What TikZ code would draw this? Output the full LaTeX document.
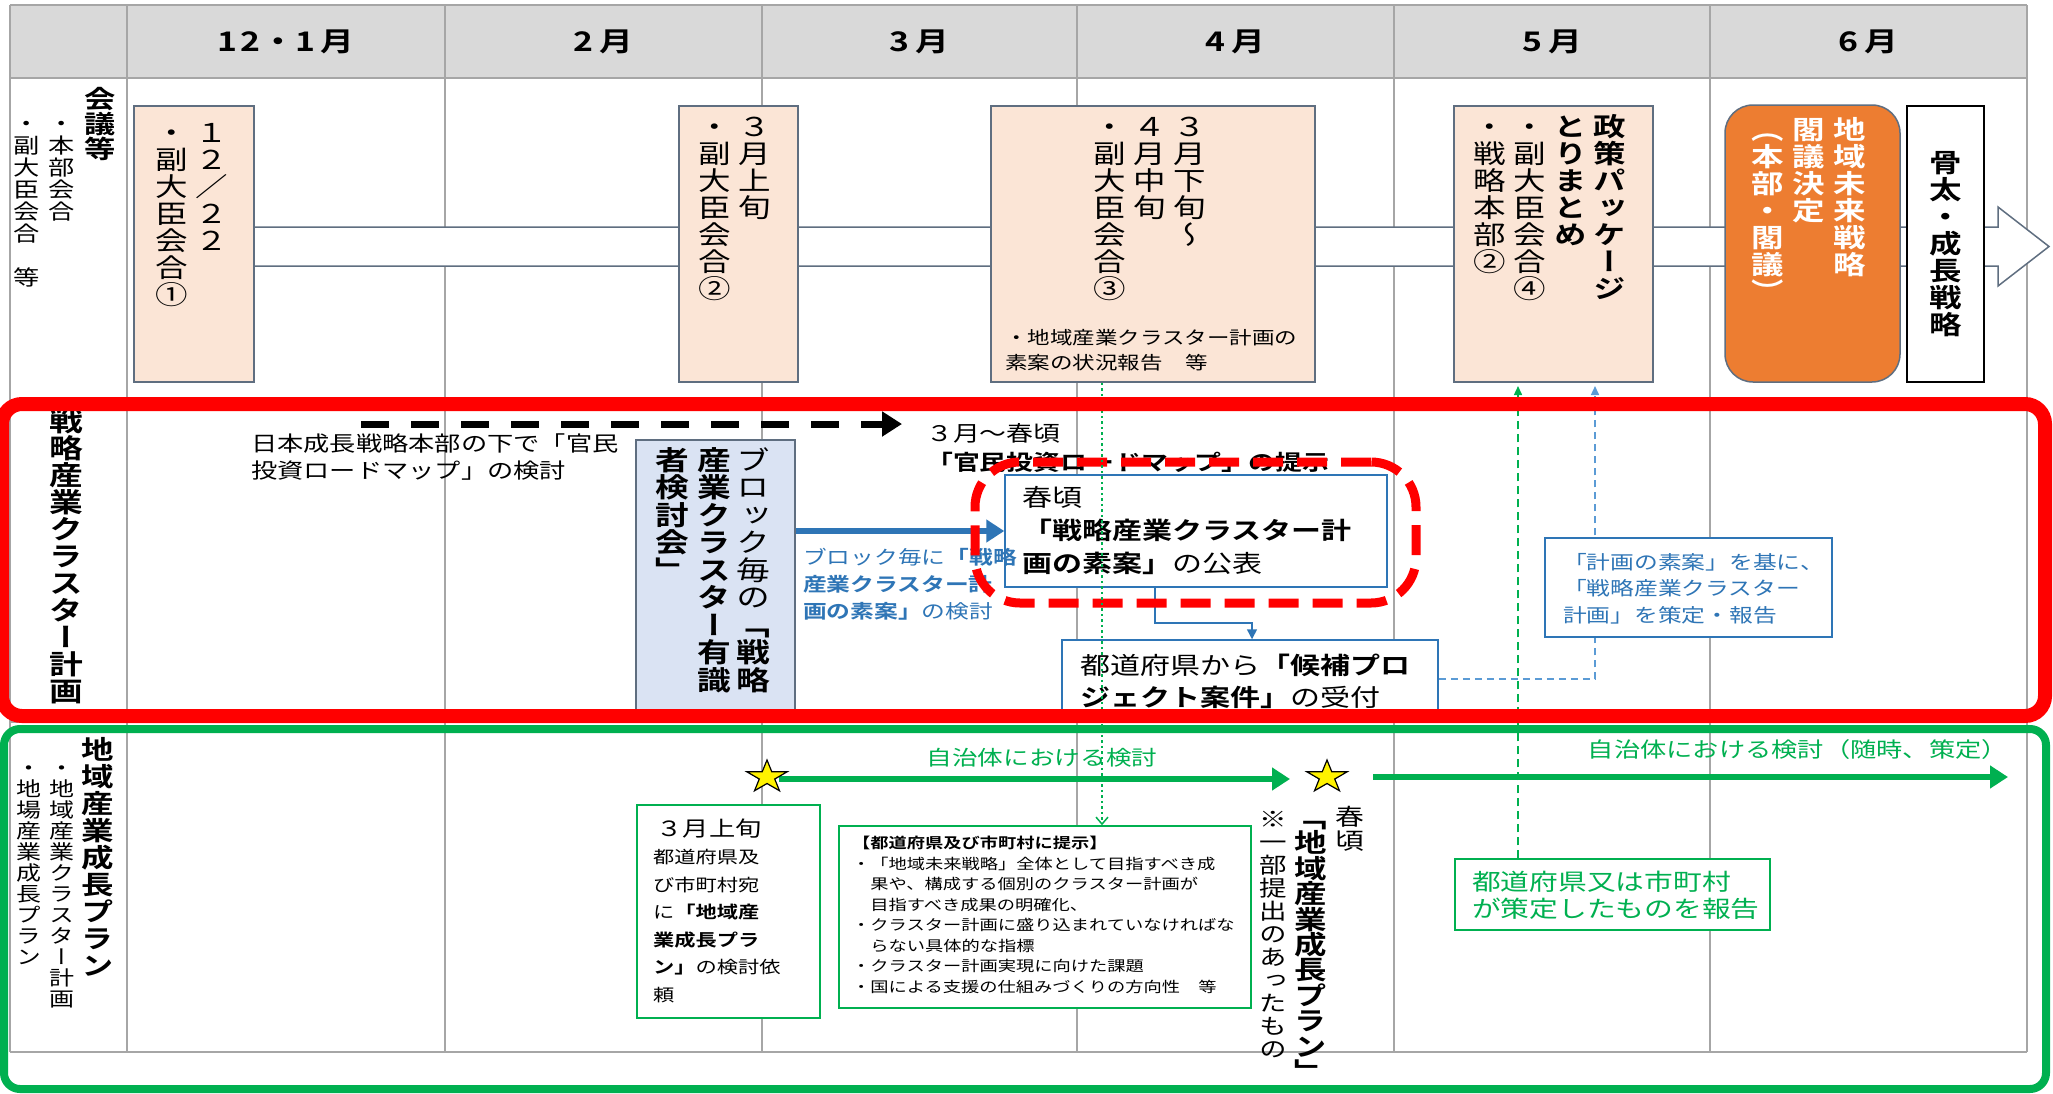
\documentclass[tikz,border=0pt]{standalone}
\usepackage{fontspec}
\setmainfont{Noto Sans CJK JP}[FakeStretch=1.25,BoldFont={Noto Sans CJK JP Bold}]
\newfontfamily\vjp{Noto Sans CJK JP}[FakeStretch=1.25,RawFeature=+vert,BoldFont={Noto Sans CJK JP Bold}]
\usetikzlibrary{arrows.meta}
\definecolor{peach}{HTML}{FBE5D6}
\definecolor{slate}{HTML}{5F6E80}
\definecolor{orng}{HTML}{ED7D31}
\definecolor{lblue}{HTML}{DAE3F3}
\definecolor{bblue}{HTML}{2E75B6}
\definecolor{dblue}{HTML}{5B9BD5}
\definecolor{grn}{HTML}{00B050}
\definecolor{gridc}{HTML}{A6A6A6}
\definecolor{hdr}{HTML}{D9D9D9}
\makeatletter
\newdimen\vsp \newdimen\vsw \newdimen\vfs \newdimen\vsk
\def\vsB{\vsB@marker}
\def\vs@end{\vs@end@marker}
\def\vs@loop#1{\ifx#1\vs@end\expandafter\@gobble\else\expandafter\@firstofone\fi{\vs@do{#1}\vs@loop}}
\def\vs@do#1{\ifx#1\vsB\bfseries\else\hbox to\vsw{\hss\smash{#1}\hss}\kern\vsp\fi}
\newcommand\VT[3]{\vjp\fontsize{#1}{#1}\selectfont\vfs=#1pt\relax\vsp=#2pt\relax\vsw=1.25\vfs
  \vsk=\dimexpr(\vsp-\vfs)/2+0.88\vfs\relax
  \vtop{\offinterlineskip\kern\vsk\vs@loop#3\vs@end\kern-\vsk}}
\makeatother
\newcommand\drawstar[1]{\begin{scope}[shift={(#1)},xscale=1.25]
  \draw[black,line width=1.2pt,fill=yellow,line join=miter] (270:17)--(306:6.5)--(342:17)--(18:6.5)--(54:17)--(90:6.5)--(126:17)--(162:6.5)--(198:17)--(234:6.5)--cycle;\end{scope}}
\tikzset{
  grid/.style={draw=gridc, line width=1.5pt},
  hd/.style={font={\fontsize{27}{27}\selectfont\bfseries}, inner sep=0pt},
  pbox/.style={draw=slate, line width=1.5pt, fill=peach, inner sep=0pt},
  vt/.style={inner sep=0pt, outer sep=0pt, anchor=north},
  ht/.style={inner sep=0pt, anchor=north west, align=left},
  bluebox/.style={draw=bblue, line width=1.5pt, fill=white, inner sep=0pt},
  greenbox/.style={draw=grn, line width=1.5pt, fill=white, inner sep=0pt},
  thickarrow/.style={line width=6pt, -{Triangle[length=18pt,width=22pt]}},
}
\begin{document}
\begin{tikzpicture}[x=1pt,y=-1pt]
\useasboundingbox (0,0) rectangle (2053,1093);
\fill[white] (0,0) rectangle (2053,1093);
% header and grid
\fill[hdr] (10,5) rectangle (2027,78);
\foreach \x in {10,127,445,762,1077,1394,1710,2027} \draw[grid] (\x,5) -- (\x,1052);
\foreach \y in {5,78,400,722,1052} \draw[grid] (10,\y) -- (2027,\y);
\node[hd] (h1) at (286,42) {1\kern3pt2\kern1pt・\kern1pt1\kern5pt月};
\node[hd] (h2) at (603,42) {2\kern6pt月};
\node[hd] (h3) at (919,42) {3\kern6pt月};
\node[hd] (h4) at (1235,42) {4\kern6pt月};
\node[hd] (h5) at (1552,42) {5\kern6pt月};
\node[hd] (h6) at (1868,42) {6\kern6pt月};
% row labels
\node[vt] (l1a) at (100,86) {\VT{25}{25}{\vsB 会議等}};
\node[vt] (l1b) at (62,113) {\VT{21}{22}{・本部会合}};
\node[vt] (l1c) at (27,113) {\VT{21}{22}{・副大臣会合　等}};
\node[vt] (l2) at (66,408) {\VT{27}{27}{\vsB 戦略産業クラスター計画}};
\node[vt] (l3a) at (98,736) {\VT{26}{27}{\vsB 地域産業成長プラン}};
\node[vt] (l3b) at (62,757) {\VT{20}{21}{・地域産業クラスター計画}};
\node[vt] (l3c) at (29,757) {\VT{20}{21}{・地場産業成長プラン}};
% band arrow
\draw[slate, line width=1.5pt, fill=white] (200,227) -- (1998,227) -- (1998,207) -- (2049,246.5) -- (1998,286) -- (1998,266) -- (200,266) -- cycle;
% row 1 boxes
\node[pbox, minimum width=120pt, minimum height=276pt] (b1) at (194,244) {};
\node[vt] (b1a) at (212,119) {\VT{26}{27}{１２／２２}};
\node[vt] (b1b) at (172,119) {\VT{26}{27}{・副大臣会合①}};
\node[pbox, minimum width=119pt, minimum height=276pt] (b2) at (738.5,244) {};
\node[vt] (b2a) at (755,113) {\VT{26}{27}{３月上旬}};
\node[vt] (b2b) at (715,113) {\VT{26}{27}{・副大臣会合②}};
\node[pbox, minimum width=324pt, minimum height=276pt] (b3) at (1153,244) {};
\node[vt] (b3a) at (1190,113) {\VT{26}{27}{３月下旬～}};
\node[vt] (b3b) at (1150,113) {\VT{26}{27}{４月中旬}};
\node[vt] (b3c) at (1110,113) {\VT{26}{27}{・副大臣会合③}};
\node[ht, font={\fontsize{18}{25}\selectfont}] (b3d) at (1005,328) {\rule{0pt}{15.8pt}・地域産業クラスター計画の\\素案の状況報告　等};
\node[pbox, minimum width=199pt, minimum height=276pt] (b4) at (1553.5,244) {};
\node[vt] (b4a) at (1610,113) {\VT{26}{27}{\vsB 政策パッケージ}};
\node[vt] (b4b) at (1571,113) {\VT{26}{27}{\vsB とりまとめ}};
\node[vt] (b4c) at (1530,113) {\VT{26}{27}{・副大臣会合④}};
\node[vt] (b4d) at (1490,113) {\VT{26}{27}{・戦略本部②}};
\node[draw=slate, line width=1.5pt, fill=orng, rounded corners=28pt, minimum width=175pt, minimum height=277pt, inner sep=0pt] (orb) at (1812.5,243.5) {};
\node[vt, text=white] (ora) at (1850,116) {\VT{26}{27}{\vsB 地域未来戦略}};
\node[vt, text=white] (orc) at (1809,116) {\VT{26}{27}{\vsB 閣議決定}};
\node[vt, text=white] (ord) at (1768,116) {\VT{26}{27}{\vsB （本部・閣議）}};
\node[draw=black, line width=1.5pt, fill=white, minimum width=77pt, minimum height=276pt, inner sep=0pt] (kb) at (1945.5,244) {};
\node[inner sep=0pt] (kbt) at (kb.center) {\VT{26}{27}{\vsB 骨太・成長戦略}};
% row 2
\coordinate (rm1) at (361,424);
\coordinate (rm2) at (902,424);
\draw[line width=7pt, dash pattern=on 28pt off 22pt, -{Triangle[length=20pt,width=24pt]}] (rm1) -- (rm2);
\node[ht, font={\fontsize{21}{27}\selectfont}] (t1) at (251,432.5) {\rule{0pt}{18.5pt}日本成長戦略本部の下で「官民\\投資ロードマップ」の検討};
\node[ht, font={\fontsize{21.5}{29}\selectfont}] (t2) at (926,422) {\rule{0pt}{18.9pt}３月～春頃\\\textbf{「官民投資ロードマップ」の提示}};
\node[draw=slate, line width=1.5pt, fill=lblue, minimum width=159pt, minimum height=272pt, inner sep=0pt] (bbox) at (715.5,576) {};
\node[vt] (bba) at (753,446) {\VT{27}{27.5}{ブロック毎の\vsB 「戦略}};
\node[vt] (bbb) at (714,446) {\VT{27}{27.5}{\vsB 産業クラスター有識}};
\node[vt] (bbc) at (672,446) {\VT{27}{27.5}{\vsB 者検討会」}};
\node[bluebox, minimum width=382pt, minimum height=112pt] (spring) at (1196,531) {};
\draw[bblue, thickarrow] (bbox.east |- spring.west) -- (spring.west);
\node[ht, text=bblue, font={\fontsize{19}{27}\selectfont}] (t3) at (803,547.5) {\rule{0pt}{16.7pt}ブロック毎に\textbf{「戦略}\\\textbf{産業クラスター計}\\\textbf{画の素案」}の検討};
\node[ht, font={\fontsize{24}{33}\selectfont}] (t4) at (1022,485) {\rule{0pt}{21.1pt}春頃\\\textbf{「戦略産業クラスター計}\\\textbf{画の素案」}の公表};
\node[bluebox, minimum width=376pt, minimum height=78pt] (cand) at (1250,679) {};
\node[ht, font={\fontsize{24}{32}\selectfont}] (t5) at (1080,653) {\rule{0pt}{21.1pt}都道府県から\textbf{「候補プロ}\\\textbf{ジェクト案件」}の受付};
\coordinate (el1) at (1155,0);
\coordinate (el2) at (1252,0);
\draw[bblue, line width=1.5pt, -{Triangle[length=10pt,width=10pt]}] (spring.south -| el1) -- ++(0,35) -| (cand.north -| el2);
\coordinate (bd) at (1595,386);
\draw[dblue, line width=1.5pt, dash pattern=on 7pt off 5pt, -{Triangle[length=9pt,width=8pt]}] (cand.east) -| (bd);
\node[bluebox, minimum width=287pt, minimum height=99pt] (plan) at (1688.5,587.5) {};
\node[ht, text=bblue, font={\fontsize{19}{26.5}\selectfont}] (t6) at (1563,552.5) {\rule{0pt}{16.7pt}「計画の素案」を基に、\\「戦略産業クラスター\\計画」を策定・報告};
\node[draw=red, line width=9pt, dash pattern=on 30pt off 14pt, rounded corners=45pt, minimum width=441pt, minimum height=141pt, inner sep=0pt] (hl) at (1195.5,532.5) {};
% row 3
\coordinate (g1s) at (779,779);
\coordinate (g1e) at (1290,779);
\coordinate (g2s) at (1373,777);
\coordinate (g2e) at (2008,777);
\draw[grn, thickarrow] (g1s) -- (g1e);
\draw[grn, thickarrow] (g2s) -- (g2e);
\node[text=grn, font={\fontsize{20.5}{20.5}\selectfont}, inner sep=0pt] (t7) at (1042,758) {自治体における検討};
\node[text=grn, font={\fontsize{21}{21}\selectfont}, inner sep=0pt, anchor=east] (t8) at (2008,750) {自治体における検討（随時、策定）};
\coordinate (star1) at (767,777);
\coordinate (star2) at (1327,777);
\drawstar{star1}
\drawstar{star2}
\node[greenbox, minimum width=183pt, minimum height=213pt] (req) at (728.5,911.5) {};
\node[ht, font={\fontsize{17}{27.5}\selectfont}] (t9) at (653,817.5) {\rule{0pt}{18.5pt}{\fontsize{21}{21}\selectfont \,３月上旬}\\都道府県及\\び市町村宛\\に\textbf{「地域産}\\\textbf{業成長プラ}\\\textbf{ン」}の検討依\\頼};
\node[greenbox, minimum width=412pt, minimum height=182pt] (info) at (1045,917) {};
\node[ht, font={\fontsize{14.6}{20.5}\selectfont}] (t10) at (852,835.6) {\rule{0pt}{12.8pt}\textbf{【都道府県及び市町村に提示】}\\・「地域未来戦略」全体として目指すべき成\\　果や、構成する個別のクラスター計画が\\　目指すべき成果の明確化、\\・クラスター計画に盛り込まれていなければな\\　らない具体的な指標\\・クラスター計画実現に向けた課題\\・国による支援の仕組みづくりの方向性　等};
\node[greenbox, minimum width=315pt, minimum height=71pt] (rep) at (1612.5,894.5) {};
\node[ht, text=grn, font={\fontsize{23}{27}\selectfont}] (t11) at (1472,870.5) {\rule{0pt}{20.2pt}都道府県又は市町村\\が策定したものを報告};
\node[vt] (v1) at (1350,805) {\VT{23}{24}{春頃}};
\node[vt] (v2) at (1311,805) {\VT{26}{25.4}{\vsB 「地域産業成長プラン」}};
\node[vt] (v3) at (1273,808) {\VT{22}{23}{※一部提出のあったもの}};
% cross-row connectors
\coordinate (gdx) at (1102,0);
\draw[grn, line width=1.5pt, dash pattern=on 2.5pt off 3pt, -{Straight Barb[length=7pt,width=12pt]}] (b3.south -| gdx) -- (info.north -| gdx);
\coordinate (gd2) at (1518,386);
\draw[grn, line width=1.5pt, dash pattern=on 8pt off 5pt, -{Triangle[length=9pt,width=8pt]}] (rep.north -| gd2) -- (gd2);
% frames
\draw[red, line width=14pt, rounded corners=20pt] (2,404) rectangle (2045,716);
\draw[grn, line width=8pt, rounded corners=16pt] (4,729) rectangle (2046,1089);
\end{tikzpicture}
\end{document}
